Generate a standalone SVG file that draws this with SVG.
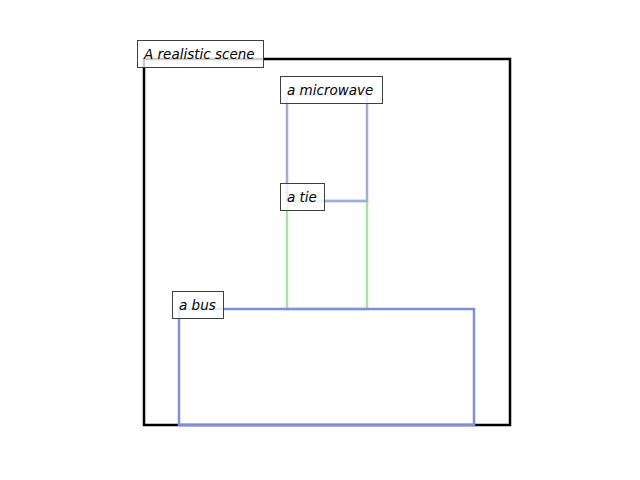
<svg xmlns="http://www.w3.org/2000/svg" width="640" height="480" viewBox="0 0 640 480">
<style>
.r{fill:none;stroke-width:2.5}
.lb{fill:#fff;fill-opacity:0.8;stroke:#3f3f3f;stroke-width:1}
.t{font-family:"DejaVu Sans",sans-serif;font-style:italic;font-size:13.5px;fill:#000}
</style>
<rect width="640" height="480" fill="#fff"/>
<g id="connectors"></g>
<g id="scene"><rect class="r" x="144" y="59" width="366" height="366" stroke="#000"/></g>
<g id="tie"><rect class="r" x="287" y="201" width="80" height="108" stroke="#a6e3a0"/></g>
<g id="microwave"><rect class="r" x="287" y="95" width="80" height="106" stroke="#a3acd9"/></g>
<g id="bus"><rect class="r" x="179" y="309" width="295" height="116" stroke="#8190d6"/></g>
<g id="scene-label"><rect class="lb" x="137.5" y="40.5" width="126" height="27"/><text class="t" x="144" y="58.5">A realistic scene</text></g>
<g id="microwave-label"><rect class="lb" x="280.5" y="76.5" width="102" height="27"/><text class="t" x="287" y="94.5">a microwave</text></g>
<g id="tie-label"><rect class="lb" x="280.5" y="183.5" width="44" height="27"/><text class="t" x="287" y="201.5">a tie</text></g>
<g id="bus-label"><rect class="lb" x="172.5" y="291.5" width="51" height="27"/><text class="t" x="179" y="309.5">a bus</text></g>
</svg>
